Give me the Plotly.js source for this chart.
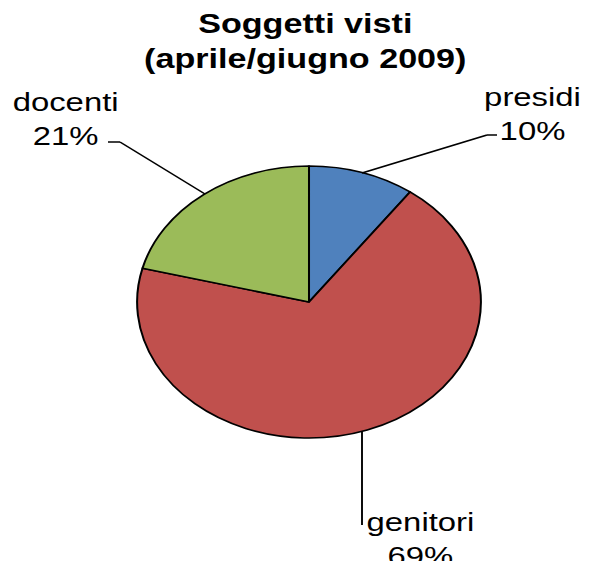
<!DOCTYPE html>
<html>
<head>
<meta charset="utf-8">
<script src="https://cdn.plot.ly/plotly-3.0.1.min.js"></script>
<style>
  html, body { margin: 0; padding: 0; background: #ffffff; overflow: hidden; }
  #wrap { width: 589px; height: 561px; overflow: hidden; }
  #chart { width: 466px; height: 561px; transform: scaleX(1.264); transform-origin: 0 0; }
</style>
</head>
<body>
<div id="wrap"><div id="chart"></div></div>
<script>
// Data
const categories = ["presidi", "genitori", "docenti"];
const percentages = [10, 69, 21];
const sliceColors = ["#4F81BD", "#C0504D", "#9BBB59"];
const chartTitle = "Soggetti visti<br>(aprile/giugno 2009)";

const W = 466, H = 561;
const px = x => x / W;            // unscaled pixel -> paper x
const py = y => 1 - y / H;        // pixel from top -> paper y
const sx = x => x / 1.264;        // reference pixel x -> unscaled pixel x

const cx = sx(309), cy = 302, r = 136;

const trace = {
  type: "pie",
  labels: categories,
  values: percentages,
  sort: false,
  direction: "clockwise",
  rotation: 0,
  marker: { colors: sliceColors, line: { color: "#000000", width: 1.6 } },
  textinfo: "none",
  hoverinfo: "label+percent",
  showlegend: false,
  domain: { x: [px(cx - r), px(cx + r)], y: [py(cy + r), py(cy - r)] }
};

const labelFont = { family: "Liberation Sans, Arial, sans-serif", size: 26, color: "#000000" };

function seg(x0, y0, x1, y1) {
  return { type: "line", xref: "paper", yref: "paper",
           x0: px(sx(x0)), y0: py(y0), x1: px(sx(x1)), y1: py(y1),
           line: { color: "#000000", width: 1.5 } };
}

const annotations = [
  { text: chartTitle, x: px(sx(305)), y: py(7),
    xref: "paper", yref: "paper", xanchor: "center", yanchor: "top", showarrow: false,
    font: { family: "Liberation Sans, Arial, sans-serif", size: 27, color: "#000000", weight: "bold" } },
  { text: categories[2] + "<br>" + percentages[2] + "%", x: px(sx(66)), y: py(119),
    xref: "paper", yref: "paper", xanchor: "center", yanchor: "middle", showarrow: false, font: labelFont },
  { text: categories[0] + "<br>" + percentages[0] + "%", x: px(sx(533)), y: py(114),
    xref: "paper", yref: "paper", xanchor: "center", yanchor: "middle", showarrow: false, font: labelFont },
  { text: categories[1] + "<br>" + percentages[1] + "%", x: px(sx(420)), y: py(539),
    xref: "paper", yref: "paper", xanchor: "center", yanchor: "middle", showarrow: false, font: labelFont }
];

const shapes = [
  seg(108, 142, 120, 142), seg(120, 142, 205, 194),
  seg(362, 173, 487, 135), seg(487, 135, 497, 135),
  seg(362, 432, 362, 525)
];

const layout = {
  width: W, height: H,
  margin: { l: 0, r: 0, t: 0, b: 0 },
  paper_bgcolor: "#ffffff",
  plot_bgcolor: "#ffffff",
  showlegend: false,
  annotations: annotations,
  shapes: shapes
};

Plotly.newPlot("chart", [trace], layout, { displayModeBar: false, staticPlot: true });
</script>
</body>
</html>
